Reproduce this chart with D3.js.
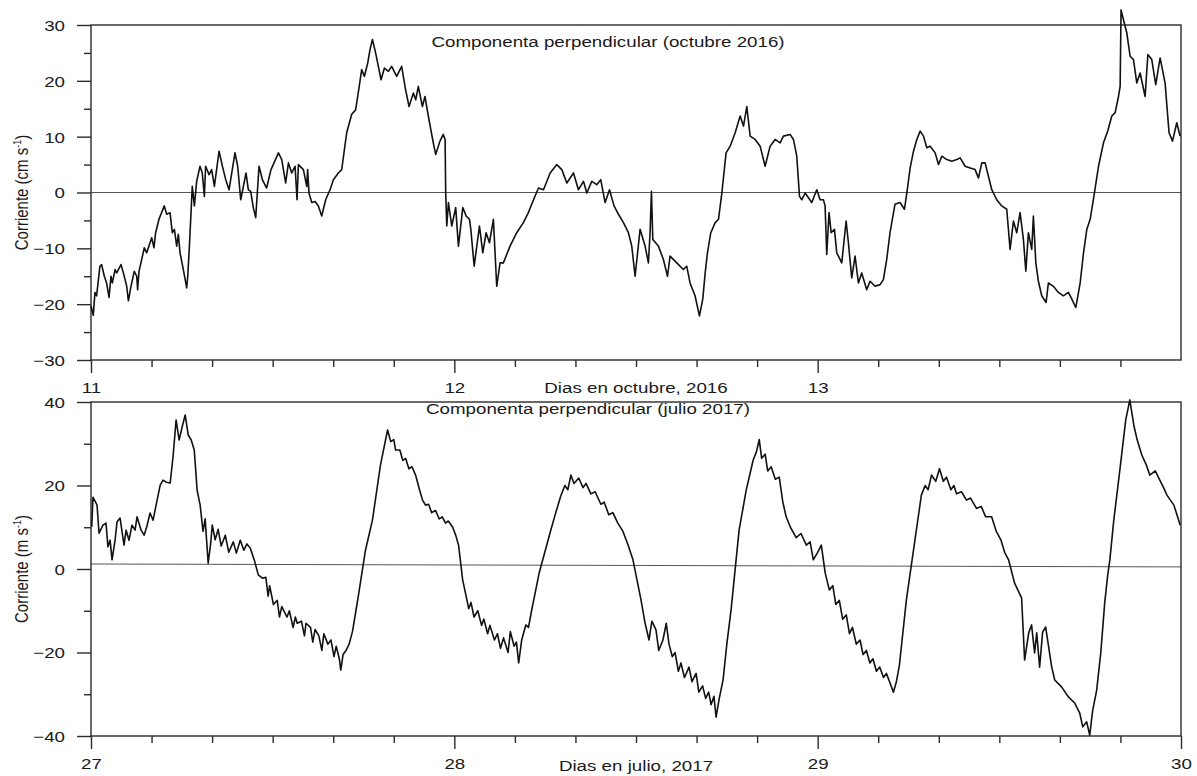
<!DOCTYPE html>
<html>
<head>
<meta charset="utf-8">
<script src="https://cdn.jsdelivr.net/npm/d3@7"></script>
<style>
body { margin: 0; background: #fff; }
svg { display: block; font-family: "Liberation Sans", Arial, sans-serif; }
</style>
</head>
<body>
<div id="chart"></div>
<script>
// width and height
var w = 1197;
var h = 776;
// the source figure is stretched sideways, text too
var sx = 1.25;

// octubre 2016: [hours since 11 oct 00:00, corriente cm/s]
var octubre = [
  [0,-20.3],[0.15,-22.0],[0.26,-17.9],[0.37,-18.5],[0.59,-13.2],[0.70,-12.9],[0.88,-15.0],[1.03,-16.2],
  [1.19,-18.8],[1.32,-15.0],[1.41,-16.2],[1.59,-13.8],[1.70,-14.4],[1.98,-12.9],[2.14,-14.4],[2.36,-16.8],
  [2.47,-19.4],[2.64,-16.8],[2.86,-14.1],[3.02,-15.0],[3.08,-17.4],[3.17,-14.1],[3.30,-12.6],[3.52,-9.9],
  [3.68,-10.8],[3.83,-9.6],[4.01,-8.1],[4.16,-9.9],[4.27,-7.2],[4.49,-4.8],[4.84,-2.4],[5.00,-3.9],
  [5.22,-3.6],[5.37,-7.2],[5.51,-6.6],[5.66,-9.6],[5.77,-7.5],[5.88,-10.8],[6.10,-13.8],[6.32,-17.1],
  [6.39,-15.0],[6.50,-9.6],[6.69,1.1],[6.83,-2.4],[6.98,2.0],[7.20,4.7],[7.35,3.5],[7.49,-0.7],
  [7.57,4.7],[7.80,3.2],[7.97,4.1],[8.15,1.1],[8.46,7.4],[8.68,4.7],[8.90,2.3],[9.12,0.5],
  [9.51,7.1],[9.69,4.7],[9.89,-1.3],[10.24,3.5],[10.39,0.5],[10.55,0.2],[10.72,-2.7],[10.88,-4.5],
  [11.10,4.7],[11.32,2.3],[11.60,0.8],[11.89,4.1],[12.38,7.1],[12.60,5.9],[12.86,1.7],[13.04,5.3],
  [13.26,3.5],[13.48,4.7],[13.61,-1.3],[13.70,5.0],[14.03,4.1],[14.25,1.1],[14.31,4.1],[14.40,-0.1],
  [14.58,-1.8],[14.80,-1.6],[15.02,-2.4],[15.24,-4.2],[15.50,-1.3],[15.79,0.5],[16.01,2.3],[16.34,3.5],
  [16.56,4.1],[16.89,10.7],[17.22,14.0],[17.48,14.8],[17.70,18.7],[17.88,22.0],[18.06,20.8],[18.28,23.2],
  [18.43,25.6],[18.59,27.4],[18.80,25.0],[18.98,22.6],[19.16,20.2],[19.38,22.3],[19.64,21.7],[19.86,22.6],
  [20.19,20.8],[20.52,22.6],[20.78,18.4],[21.01,15.4],[21.29,17.8],[21.45,16.6],[21.62,19.0],[21.89,15.4],
  [22.06,17.2],[22.28,13.7],[22.61,8.9],[22.77,6.8],[23.05,9.2],[23.27,10.4],[23.39,9.5],[23.43,-0.1],
  [23.50,-6.0],[23.61,-1.8],[23.83,-6.0],[24.09,-2.7],[24.27,-9.6],[24.56,-2.7],[24.78,-4.2],[25.00,-4.8],
  [25.09,-6.6],[25.31,-13.2],[25.66,-6.0],[25.88,-10.8],[26.10,-7.2],[26.32,-9.0],[26.58,-4.8],[26.80,-16.8],
  [27.02,-12.6],[27.24,-12.6],[27.68,-9.6],[28.12,-7.2],[28.56,-5.4],[28.89,-3.6],[29.23,-1.3],[29.56,0.8],
  [29.89,0.5],[30.33,3.5],[30.77,5.0],[31.10,4.1],[31.43,1.7],[31.87,3.5],[32.20,0.5],[32.53,2.0],
  [32.75,-0.1],[33.08,2.0],[33.41,1.4],[33.67,2.3],[33.96,-1.8],[34.25,0.5],[34.55,-2.4],[34.84,-3.9],
  [35.17,-5.4],[35.50,-7.2],[35.72,-9.6],[35.94,-15.0],[36.27,-6.6],[36.60,-9.6],[36.82,-12.6],[36.93,-7.2],
  [37.02,0.2],[37.11,-8.4],[37.48,-9.6],[37.81,-12.0],[38.08,-15.0],[38.25,-11.4],[38.69,-12.6],[39.13,-13.8],
  [39.35,-13.2],[39.57,-16.2],[39.90,-18.5],[40.19,-22.1],[40.41,-19.1],[40.57,-14.4],[40.72,-10.8],[40.94,-7.2],
  [41.23,-5.4],[41.45,-4.8],[41.67,-0.1],[41.95,7.1],[42.22,8.3],[42.55,10.7],[42.88,13.7],[43.10,11.9],
  [43.32,15.4],[43.54,10.1],[43.87,9.5],[44.20,8.3],[44.53,4.7],[44.86,8.3],[45.19,9.5],[45.52,8.9],
  [45.74,10.1],[46.18,10.4],[46.40,9.5],[46.62,6.5],[46.80,-0.7],[46.95,-1.3],[47.17,-0.1],[47.61,-1.8],
  [47.94,0.5],[48.16,-1.3],[48.38,-1.3],[48.49,-2.4],[48.60,-11.1],[48.75,-3.6],[48.89,-7.2],[49.11,-6.6],
  [49.26,-10.8],[49.59,-12.6],[49.88,-5.1],[50.03,-9.0],[50.25,-15.3],[50.47,-11.4],[50.69,-16.2],[50.91,-14.4],
  [51.24,-17.4],[51.46,-15.9],[51.79,-16.8],[52.12,-16.5],[52.34,-15.6],[52.56,-12.0],[52.78,-7.2],[53.11,-2.1],
  [53.44,-1.8],[53.73,-3.0],[53.89,-0.1],[54.11,4.4],[54.33,7.4],[54.55,9.5],[54.77,11.0],[54.99,10.1],
  [55.21,8.0],[55.43,8.3],[55.76,7.1],[55.98,5.0],[56.20,6.5],[56.53,5.9],[56.86,5.6],[57.19,5.9],
  [57.41,6.2],[57.74,4.7],[58.07,4.4],[58.40,4.1],[58.62,2.6],[58.84,5.3],[59.06,5.3],[59.28,2.9],
  [59.50,0.5],[59.83,-1.3],[60.16,-2.4],[60.49,-3.0],[60.71,-10.2],[60.93,-5.1],[61.15,-7.2],[61.37,-3.6],
  [61.59,-8.4],[61.75,-14.1],[61.92,-7.2],[62.14,-10.2],[62.25,-4.2],[62.41,-12.6],[62.58,-15.9],[62.80,-18.5],
  [63.09,-19.7],[63.24,-16.2],[63.57,-16.8],[63.90,-17.9],[64.23,-18.5],[64.56,-17.9],[64.79,-19.1],[65.05,-20.6],
  [65.34,-16.2],[65.56,-10.8],[65.78,-6.6],[66.00,-4.8],[66.28,-0.1],[66.55,4.7],[66.88,8.9],[67.16,11.0],
  [67.43,13.7],[67.65,14.3],[67.87,17.2],[67.98,19.0],[68.04,32.7],[68.20,30.9],[68.42,28.6],[68.64,24.4],
  [68.86,23.8],[69.08,19.6],[69.30,21.4],[69.63,17.2],[69.81,24.7],[70.07,23.8],[70.33,19.3],[70.62,24.1],
  [70.95,19.6],[71.21,10.7],[71.44,9.2],[71.72,12.5],[71.94,10.1]
];

// julio 2017: [hours since 27 jul 00:00, corriente]
var julio = [
  [0.05,10.1],[0.13,17.2],[0.40,15.3],[0.53,8.6],[0.79,10.5],[0.99,11.0],[1.12,5.3],[1.26,6.9],
  [1.39,2.2],[1.59,6.9],[1.72,11.3],[1.92,12.2],[2.18,5.7],[2.32,9.3],[2.51,6.9],[2.71,10.5],
  [2.91,9.3],[3.04,12.5],[3.31,9.3],[3.51,8.1],[3.71,10.5],[3.90,13.4],[4.10,11.7],[4.30,15.3],
  [4.57,20.1],[4.76,21.3],[4.96,20.8],[5.23,20.6],[5.43,27.3],[5.62,35.7],[5.82,30.9],[6.02,34.0],
  [6.22,36.9],[6.42,32.1],[6.62,30.9],[6.82,28.5],[7.01,18.9],[7.21,15.3],[7.40,9.0],[7.54,12.0],
  [7.74,1.4],[7.90,6.0],[8.01,10.5],[8.20,7.0],[8.40,9.5],[8.60,5.5],[8.87,8.1],[9.10,4.0],
  [9.40,6.5],[9.60,3.8],[9.86,6.9],[10.10,4.5],[10.30,6.0],[10.52,5.0],[10.80,2.0],[11.05,-1.4],
  [11.32,-2.2],[11.55,-2.0],[11.70,-6.5],[11.80,-4.0],[12.05,-8.5],[12.30,-7.5],[12.45,-11.5],[12.60,-9.0],
  [12.95,-11.5],[13.10,-10.0],[13.35,-14.0],[13.50,-11.5],[13.62,-13.0],[13.90,-12.5],[14.10,-16.0],[14.20,-13.0],
  [14.50,-14.0],[14.65,-17.5],[14.80,-14.5],[15.05,-16.0],[15.25,-19.5],[15.38,-15.5],[15.65,-18.0],[15.85,-17.0],
  [16.05,-21.0],[16.20,-18.5],[16.40,-21.5],[16.50,-24.2],[16.65,-20.5],[16.85,-19.5],[17.05,-18.0],[17.27,-15.0],
  [17.50,-10.0],[17.67,-6.2],[18.13,4.5],[18.59,11.7],[19.12,24.9],[19.59,33.3],[19.80,30.5],[20.00,31.0],
  [20.12,28.5],[20.40,28.5],[20.60,26.0],[20.78,26.5],[21.00,24.0],[21.20,24.5],[21.44,22.5],[21.70,19.0],
  [21.90,16.5],[22.10,15.3],[22.30,15.5],[22.50,13.5],[22.76,14.0],[23.00,12.0],[23.20,12.5],[23.42,11.0],
  [23.60,11.5],[23.89,10.0],[24.10,8.0],[24.28,5.7],[24.55,-2.6],[24.75,-6.0],[24.95,-9.5],[25.10,-8.0],
  [25.30,-11.5],[25.55,-10.0],[25.80,-13.5],[25.95,-12.0],[26.20,-15.5],[26.35,-13.5],[26.65,-17.0],[26.85,-15.5],
  [27.05,-19.0],[27.25,-16.5],[27.55,-20.0],[27.70,-15.0],[27.95,-18.5],[28.10,-17.5],[28.25,-22.5],[28.45,-17.0],
  [28.72,-13.4],[28.90,-14.0],[29.10,-10.0],[29.38,-5.0],[29.60,-1.0],[29.84,2.2],[30.37,9.3],[30.70,13.5],
  [31.03,17.5],[31.30,20.0],[31.50,19.0],[31.70,22.5],[31.90,20.5],[32.22,21.8],[32.50,19.5],[32.70,20.5],
  [33.02,18.0],[33.30,18.5],[33.68,15.5],[33.90,16.0],[34.20,13.0],[34.47,13.5],[34.80,11.0],[35.14,9.0],
  [35.50,5.5],[35.80,2.2],[36.33,-7.4],[36.60,-13.0],[36.86,-17.0],[37.05,-12.5],[37.32,-14.6],[37.50,-19.5],
  [37.78,-17.0],[38.00,-13.0],[38.18,-18.0],[38.40,-21.0],[38.58,-20.0],[38.80,-24.5],[38.97,-22.5],[39.20,-26.0],
  [39.50,-23.5],[39.70,-27.0],[39.97,-25.0],[40.15,-29.5],[40.40,-28.0],[40.60,-31.0],[40.80,-29.5],[40.96,-32.5],
  [41.15,-30.5],[41.29,-35.5],[41.50,-31.0],[41.75,-26.6],[42.00,-18.0],[42.28,-9.8],[42.81,9.3],[43.28,18.9],
  [43.74,26.1],[43.95,28.0],[44.14,31.0],[44.30,26.5],[44.53,27.5],[44.70,23.5],[44.93,24.5],[45.20,21.5],
  [45.46,22.0],[45.70,16.0],[45.92,12.5],[46.20,10.0],[46.58,7.5],[46.90,8.5],[47.25,5.7],[47.50,6.5],
  [47.71,2.2],[48.00,4.0],[48.24,5.7],[48.50,-1.0],[48.77,-5.0],[49.00,-4.0],[49.20,-8.5],[49.43,-7.5],
  [49.65,-12.0],[49.89,-11.0],[50.10,-15.5],[50.30,-14.0],[50.55,-18.0],[50.80,-17.0],[51.00,-20.5],[51.22,-19.5],
  [51.45,-22.5],[51.65,-21.5],[51.88,-24.5],[52.10,-23.5],[52.35,-26.0],[52.54,-25.0],[52.80,-27.5],[53.00,-29.5],
  [53.20,-27.0],[53.40,-23.0],[53.86,-7.4],[54.33,4.5],[54.85,17.7],[55.10,20.0],[55.30,19.0],[55.52,22.5],
  [55.80,21.0],[56.05,24.0],[56.30,21.0],[56.51,22.0],[56.80,19.0],[57.00,20.0],[57.17,18.0],[57.50,18.5],
  [57.83,16.5],[58.10,17.0],[58.49,14.5],[58.80,15.0],[59.10,12.5],[59.49,12.5],[59.80,9.0],[60.10,7.0],
  [60.35,4.0],[60.61,2.2],[61.01,-3.4],[61.47,-6.9],[61.67,-21.8],[61.94,-15.3],[62.13,-13.4],[62.33,-20.1],
  [62.47,-15.3],[62.66,-23.5],[62.86,-15.1],[63.06,-13.9],[63.26,-18.7],[63.46,-23.5],[63.66,-26.6],[64.12,-28.3],
  [64.58,-30.7],[64.98,-32.1],[65.31,-34.5],[65.51,-37.8],[65.77,-36.6],[65.97,-39.8],[66.17,-33.8],[66.43,-29.0],
  [66.70,-20.1],[66.96,-8.1],[67.16,-1.4],[67.30,2.2],[67.56,11.7],[67.96,23.7],[68.35,35.7],[68.62,40.5],
  [68.88,34.5],[69.10,31.0],[69.41,27.3],[69.70,25.0],[69.94,22.5],[70.30,23.5],[70.60,21.3],[70.85,19.5],
  [71.07,17.7],[71.30,16.5],[71.53,15.3],[71.95,10.5]
];

// reference line (start, end of record)
var octRef = [0, 0];
var julRef = [1.2, 0.5];

// tick labels for the days
var octDias = ["11", "12", "13"];
var julDias = ["27", "28", "29", "30"];

var panels = [
  {data: octubre, ref: octRef, days: octDias, top: 25, bottom: 360, yDom: [-30, 30], major: 10, minor: 5,
   title: "Componenta perpendicular (octubre 2016)", titleX: 608, titleY: 47,
   unit: "cm s", xlab: "Dias en octubre, 2016", xlabY: 33},
  {data: julio, ref: julRef, days: julDias, top: 402, bottom: 736, yDom: [-40, 40], major: 20, minor: 10,
   title: "Componenta perpendicular (julio 2017)", titleX: 588, titleY: 414,
   unit: "m s", xlab: "Dias en julio, 2017", xlabY: 35}
];

var left = 91, right = 1181;
var ink = "#2b2b2b";

var svg = d3.select("#chart")
  .append("svg")
  .attr("width", w)
  .attr("height", h);

panels.forEach(function(p) {
  var x = d3.scaleLinear().domain([0, 72]).range([left, right]);
  var y = d3.scaleLinear().domain(p.yDom).range([p.bottom, p.top]);

  // reference line
  svg.append("line")
    .attr("x1", x(0)).attr("x2", x(72))
    .attr("y1", y(p.ref[0])).attr("y2", y(p.ref[1]))
    .attr("stroke", "#555")
    .attr("stroke-width", 1);

  // frame
  svg.append("rect")
    .attr("x", left).attr("y", p.top)
    .attr("width", right - left).attr("height", p.bottom - p.top)
    .attr("fill", "none")
    .attr("stroke", ink)
    .attr("stroke-width", 1.4);

  // series
  svg.append("path")
    .datum(p.data)
    .attr("d", d3.line()
      .x(function(d) { return x(d[0]); })
      .y(function(d) { return y(d[1]); }))
    .attr("fill", "none")
    .attr("stroke", "#111")
    .attr("stroke-width", 1.6)
    .attr("stroke-linejoin", "round");

  // x ticks: minor every 4 h, major every day
  var majors = p.days.map(function(d, i) { return i * 24; });
  var gxm = svg.append("g")
    .attr("transform", "translate(0," + p.bottom + ")")
    .call(d3.axisBottom(x).tickValues(d3.range(4, 72, 4).filter(function(v) { return v % 24 != 0; }))
      .tickSize(7).tickFormat(""));
  var gx = svg.append("g")
    .attr("transform", "translate(0," + p.bottom + ")")
    .call(d3.axisBottom(x).tickValues(majors).tickSize(13)
      .tickFormat(function(v) { return p.days[v / 24]; }));
  gx.selectAll("text")
    .attr("y", null).attr("dy", null)
    .attr("transform", "translate(0,33) scale(" + sx + ",1)");

  // y ticks
  var yMinor = d3.range(p.yDom[0], p.yDom[1] + 0.1, p.minor).filter(function(v) { return v % p.major != 0; });
  var yMajor = d3.range(p.yDom[0], p.yDom[1] + 0.1, p.major);
  var gym = svg.append("g")
    .attr("transform", "translate(" + left + ",0)")
    .call(d3.axisLeft(y).tickValues(yMinor).tickSize(7).tickFormat(""));
  var gy = svg.append("g")
    .attr("transform", "translate(" + left + ",0)")
    .call(d3.axisLeft(y).tickValues(yMajor).tickSize(14).tickFormat(d3.format("d")));
  gy.selectAll("text")
    .attr("x", null)
    .attr("dy", "0.36em")
    .attr("transform", "translate(-26,0) scale(" + sx + ",1)");

  [gxm, gx, gym, gy].forEach(function(g) {
    g.select(".domain").remove();
    g.selectAll("line").attr("stroke", ink).attr("stroke-width", 1.4);
    g.selectAll("text").attr("font-size", 15).attr("fill", "#1a1a1a")
      .attr("font-family", "Liberation Sans, Arial, sans-serif");
  });

  // titles
  svg.append("text")
    .attr("transform", "translate(" + p.titleX + "," + p.titleY + ") scale(" + sx + ",1)")
    .attr("text-anchor", "middle")
    .attr("font-size", 15)
    .attr("fill", "#1a1a1a")
    .text(p.title);

  svg.append("text")
    .attr("transform", "translate(" + ((left + right) / 2) + "," + (p.bottom + p.xlabY) + ") scale(" + sx + ",1)")
    .attr("text-anchor", "middle")
    .attr("font-size", 15)
    .attr("fill", "#1a1a1a")
    .text(p.xlab);

  var yl = svg.append("text")
    .attr("transform", "translate(28," + ((p.top + p.bottom) / 2) + ") rotate(-90) scale(1," + sx + ")")
    .attr("text-anchor", "middle")
    .attr("font-size", 15)
    .attr("fill", "#1a1a1a");
  yl.append("tspan").text("Corriente (" + p.unit);
  yl.append("tspan").attr("dy", -6).attr("font-size", 9).text("-1");
  yl.append("tspan").attr("dy", 6).text(")");
});
</script>
</body>
</html>
